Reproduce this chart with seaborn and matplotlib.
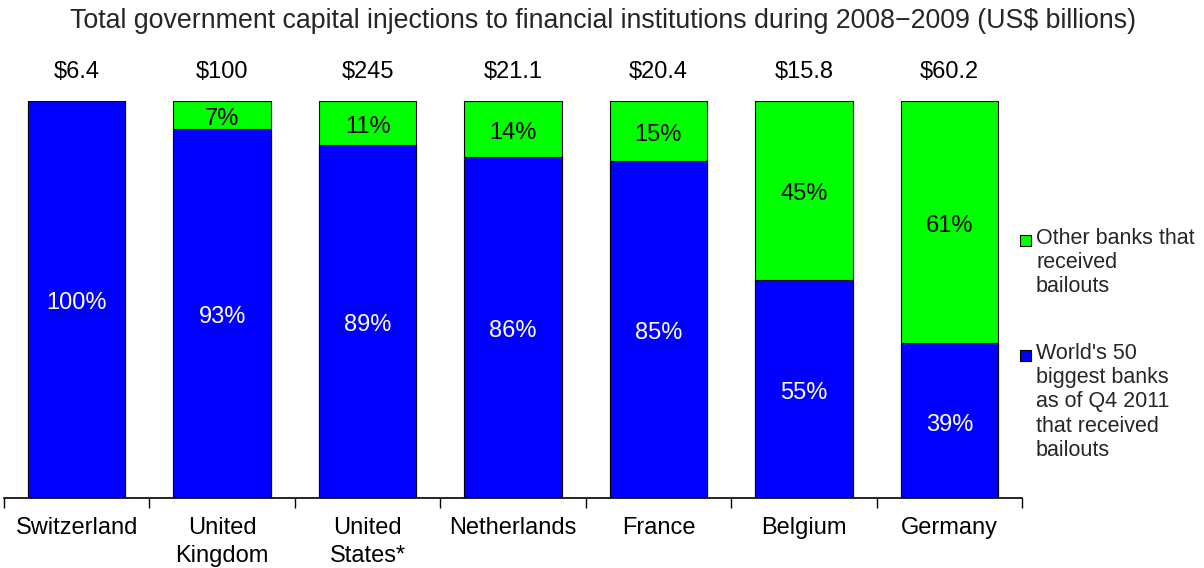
import matplotlib

matplotlib.use("Agg")
import matplotlib.pyplot as plt
import pandas as pd
import seaborn as sns
from matplotlib.patches import Rectangle

countries = ["Switzerland", "United\nKingdom", "United\nStates*", "Netherlands", "France", "Belgium", "Germany"]
totals = ["$6.4", "$100", "$245", "$21.1", "$20.4", "$15.8", "$60.2"]
big50_pct = [100, 93, 89, 86, 85, 55, 39]
other_pct = [0, 7, 11, 14, 15, 45, 61]

legend_labels = ["Other banks that\nreceived\nbailouts",
                 "World's 50\nbiggest banks\nas of Q4 2011\nthat received\nbailouts"]

BLUE = "#0000FF"
GREEN = "#00FF00"
W, H = 1204, 568

df = pd.DataFrame({"country": countries, "big50": big50_pct, "other": other_pct})
df["stack"] = df["big50"] + df["other"]

sns.set_theme(style="white")
plt.rcParams["font.family"] = ["Liberation Sans", "DejaVu Sans"]

fig = plt.figure(figsize=(W / 100, H / 100), dpi=100)
ax = fig.add_axes([4 / W, 70 / H, 1018 / W, 397 / H])

# green = full stack, blue drawn over it
sns.barplot(data=df, x="country", y="stack", color=GREEN, width=0.67,
            edgecolor="black", linewidth=0.8, saturation=1, ax=ax)
sns.barplot(data=df, x="country", y="big50", color=BLUE, width=0.67,
            edgecolor="black", linewidth=0.8, saturation=1, ax=ax)

for i, row in df.iterrows():
    b = row["big50"]
    o = row["other"]
    ax.text(i, b / 2 - 1, f"{b}%", ha="center", va="center", color="white", fontsize=17)
    if o > 0:
        ax.text(i, b + o / 2 - 1, f"{o}%", ha="center", va="center", color="black", fontsize=17)
    ax.text(i, 107.3, totals[i], ha="center", va="center", color="black", fontsize=17, clip_on=False)

ax.set_ylim(0, 100)
ax.set_xlim(-0.5, len(countries) - 0.5)
ax.set_xlabel("")
ax.set_ylabel("")
ax.set_yticks([])
ax.tick_params(axis="x", which="major", length=0, labelsize=17, pad=14, colors="black")
for t in ax.get_xticklabels():
    t.set_linespacing(1.3)
ax.set_xticks([i - 0.5 for i in range(len(countries) + 1)], minor=True)
ax.tick_params(axis="x", which="minor", length=7, width=1, color="black", direction="out", bottom=True)
for s in ["top", "right", "left"]:
    ax.spines[s].set_visible(False)
ax.spines["bottom"].set_color("black")
ax.spines["bottom"].set_linewidth(1.2)

fig.text(603 / W, 1 - 21 / H,
         "Total government capital injections to financial institutions during 2008\u22122009 (US$ billions)",
         ha="center", va="center", fontsize=19.3)

# legend drawn by hand so the square sits on the first text line
for lab, col, base in zip(legend_labels, [GREEN, BLUE], [246, 361]):
    fig.add_artist(Rectangle((1020 / W, 1 - base / H), 11 / W, 11 / H,
                             transform=fig.transFigure, facecolor=col, edgecolor="black", linewidth=0.8))
    fig.text(1036 / W, 1 - (base - 18) / H, lab, ha="left", va="top", fontsize=15.5, linespacing=1.2)

fig.savefig("out.png", dpi=100)
